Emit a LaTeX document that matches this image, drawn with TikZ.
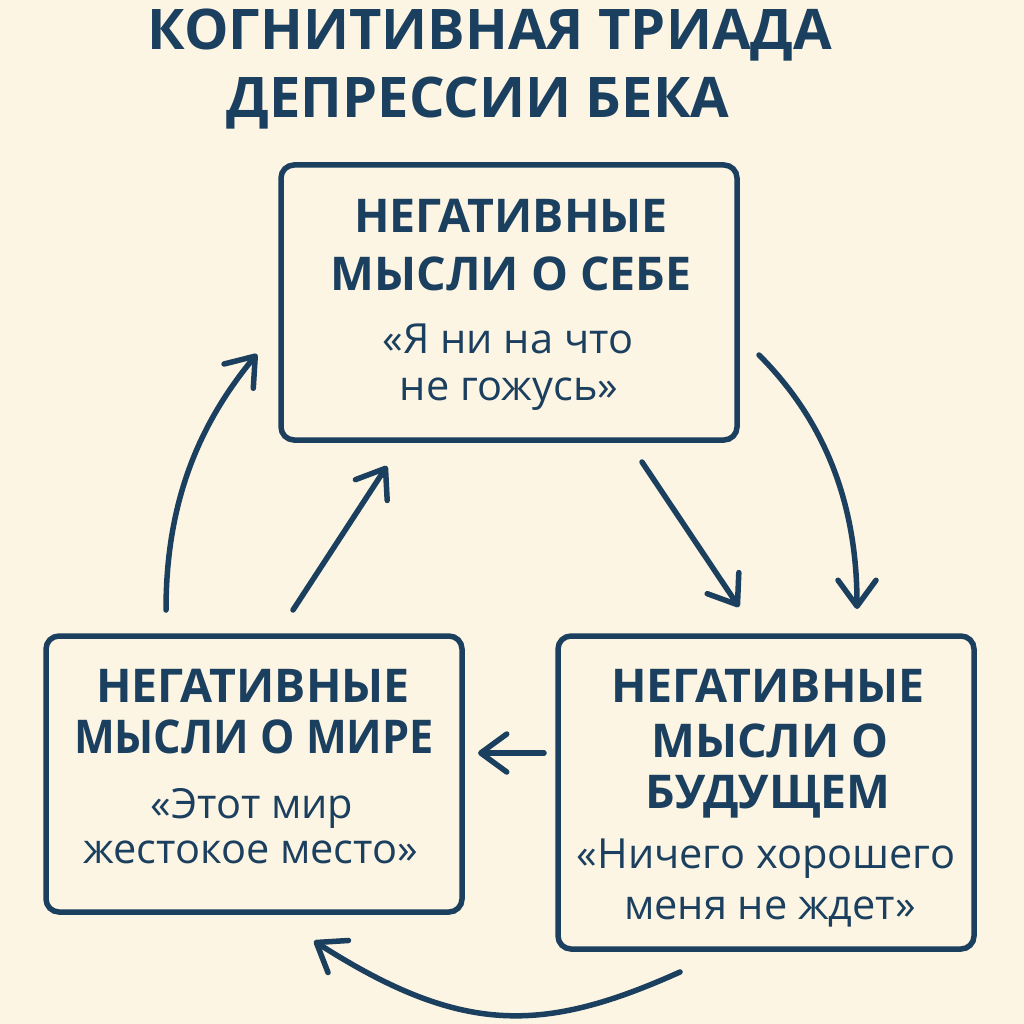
\documentclass[tikz,border=0pt]{standalone}
\usepackage{fontspec}
\setmainfont{Open Sans}
\usetikzlibrary{arrows.meta}
\definecolor{ink}{HTML}{1B3F5E}
\definecolor{paper}{HTML}{FDF5E4}
\begin{document}
\begin{tikzpicture}[x=1pt,y=-1pt,
  box/.style={draw=ink, line width=5.5pt, rounded corners=13pt, inner sep=0pt},
  head/.style={anchor=base, text=ink, font=\fontsize{46.5}{46.5}\selectfont\bfseries, inner sep=0pt},
  quote/.style={anchor=base, text=ink, font=\fontsize{41.5}{41.5}\selectfont, inner sep=0pt},
  ttl/.style={anchor=base, text=ink, font=\fontsize{56}{56}\selectfont\bfseries, inner sep=0pt},
  arr/.style={draw=ink, line width=5.5pt, line cap=round, -{Straight Barb[length=26pt,width=38pt,round]}}]

\fill[paper] (0,0) rectangle (1024,1024);
\useasboundingbox (0,0) rectangle (1024,1024);

% title
\node[ttl] (title1) at (490,50) {КОГНИТИВНАЯ ТРИАДА};
\node[ttl] (title2) at (478,118) {ДЕПРЕССИИ БЕКА};

% boxes
\node[box, minimum width=456pt, minimum height=275pt] (self) at (509,302.5) {};
\node[box, minimum width=416pt, minimum height=276pt] (world) at (254,774) {};
\node[box, minimum width=416pt, minimum height=313pt] (future) at (766,792.5) {};

% top box text
\node[head] (s1) at (511,233) {НЕГАТИВНЫЕ};
\node[head] (s2) at (511,290) {МЫСЛИ О СЕБЕ};
\node[quote] (s3) at (508,353) {«Я ни на что};
\node[quote] (s4) at (509,400) {не гожусь»};

% left box text
\node[head] (w1) at (253,702) {НЕГАТИВНЫЕ};
\node[head] (w2) at (254,753) {\scalebox{0.93}[1]{МЫСЛИ О МИРЕ}};
\node[quote] (w3) at (252,818) {«Этот мир};
\node[quote] (w4) at (251,863) {жестокое место»};

% right box text
\node[head] (f1) at (768,702) {НЕГАТИВНЫЕ};
\node[head] (f2) at (770,757) {МЫСЛИ О};
\node[head] (f3) at (768,808) {БУДУЩЕМ};
\node[quote] (f4) at (766,868) {«Ничего хорошего};
\node[quote] (f5) at (770,919) {меня не ждет»};

% connector endpoints
\coordinate (a1s) at (642,462);
\coordinate (a1e) at (739,607);
\coordinate (a2s) at (759,355);
\coordinate (a2e) at (857,609);
\coordinate (a3s) at (544,753);
\coordinate (a3e) at (478,753);
\coordinate (a4s) at (680,972);
\coordinate (a4e) at (314,941);
\coordinate (a5s) at (293,610);
\coordinate (a5e) at (387,466);
\coordinate (a6s) at (166,610);
\coordinate (a6e) at (257,354);

\draw[arr] (a1s) -- (a1e);
\draw[arr] (a2s) .. controls (829,425) and (857,510) .. (a2e);
\draw[arr] (a3s) -- (a3e);
\draw[arr] (a4s) .. controls (542,1034) and (461,1035) .. (a4e);
\draw[arr] (a5s) -- (a5e);
\draw[arr] (a6s) .. controls (166,510) and (194,430) .. (a6e);
\end{tikzpicture}
\end{document}
